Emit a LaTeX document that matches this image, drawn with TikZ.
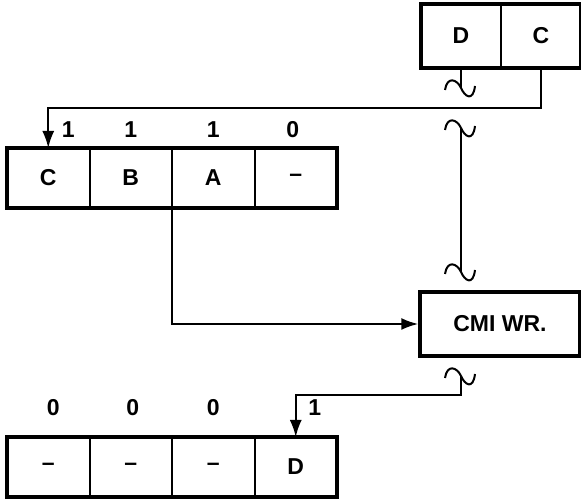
\documentclass[tikz,border=0pt]{standalone}
\usepackage{fontspec}
\setmainfont{Liberation Sans}
\usepackage{tikz}
\usetikzlibrary{arrows.meta,positioning,calc}
\tikzset{
  cell/.style={rectangle, draw=black, line width=2pt, inner sep=0pt, outer sep=0pt,
               minimum width=82.5pt, minimum height=60pt, font=\fontsize{23}{27}\selectfont\bfseries},
  frame/.style={draw=black, line width=3.5pt},
  lbl/.style={inner sep=0pt, font=\fontsize{23}{27}\selectfont\bfseries},
  ln/.style={line width=2pt},
  ar/.style={-{Latex[length=17pt,width=12pt]}, line width=2pt},
  wig/.pic={\draw[ln] (-16,-2) .. controls (-14,12) and (-4,9) .. (0,0) .. controls (4,-9) and (12,-14) .. (14,2);}
}
\begin{document}
\begin{tikzpicture}[x=1pt, y=1pt,
  tcell/.style={cell, minimum width=80pt, minimum height=64pt}
]
\useasboundingbox (0,0) rectangle (581,502);
% top register
\node[tcell] (tD) at (461,466) {D};
\node[tcell, right=0pt of tD] (tC) {C};
\draw[frame] (tD.north west) rectangle (tC.south east);
% middle register
\node[cell] (m1) at (48.25,324) {C};
\node[cell, right=0pt of m1] (m2) {B};
\node[cell, right=0pt of m2] (m3) {A};
\node[cell, right=0pt of m3] (m4) {--};
\draw[frame] (m1.north west) rectangle (m4.south east);
\node[lbl, xshift=20pt, yshift=18pt] (ml1) at (m1.north) {1};
\node[lbl, yshift=18pt] (ml2) at (m2.north) {1};
\node[lbl, yshift=18pt] (ml3) at (m3.north) {1};
\node[lbl, xshift=-3pt, yshift=18pt] (ml4) at (m4.north) {0};
% bottom register
\node[cell] (b1) at (48.25,35) {--};
\node[cell, right=0pt of b1] (b2) {--};
\node[cell, right=0pt of b2] (b3) {--};
\node[cell, right=0pt of b3] (b4) {D};
\draw[frame] (b1.north west) rectangle (b4.south east);
\node[lbl, xshift=5pt, yshift=29pt] (bl1) at (b1.north) {0};
\node[lbl, xshift=2pt, yshift=29pt] (bl2) at (b2.north) {0};
\node[lbl, yshift=29pt] (bl3) at (b3.north) {0};
\node[lbl, xshift=19pt, yshift=29pt] (bl4) at (b4.north) {1};
% write unit
\node[rectangle, draw=black, line width=3.5pt, minimum width=160pt, minimum height=64pt,
      inner sep=0pt, font=\fontsize{23}{27}\selectfont\bfseries] (cmi) at (500,178) {CMI WR.};
% breaks
\coordinate (k1) at ($(tD.south)+(0,-20)$);
\coordinate (k2) at ($(tD.south)+(0,-60)$);
\coordinate (k3) at ($(tD.south)+(0,-204)$);
\coordinate (k4) at ($(tD.south)+(0,-308)$);
\pic at (k1) {wig};
\pic at (k2) {wig};
\pic at (k3) {wig};
\pic at (k4) {wig};
% connectors
\draw[ar] (tC.south) -- ++(0,-40) -| (m1.north);
\draw[ln] (tD.south) -- (k1);
\draw[ln] (k2) -- (k3);
\draw[ar] (m2.south east) |- (cmi.west);
\draw[ar] (k4) -- ++(0,-19) -| (b4.north);
\end{tikzpicture}
\end{document}
